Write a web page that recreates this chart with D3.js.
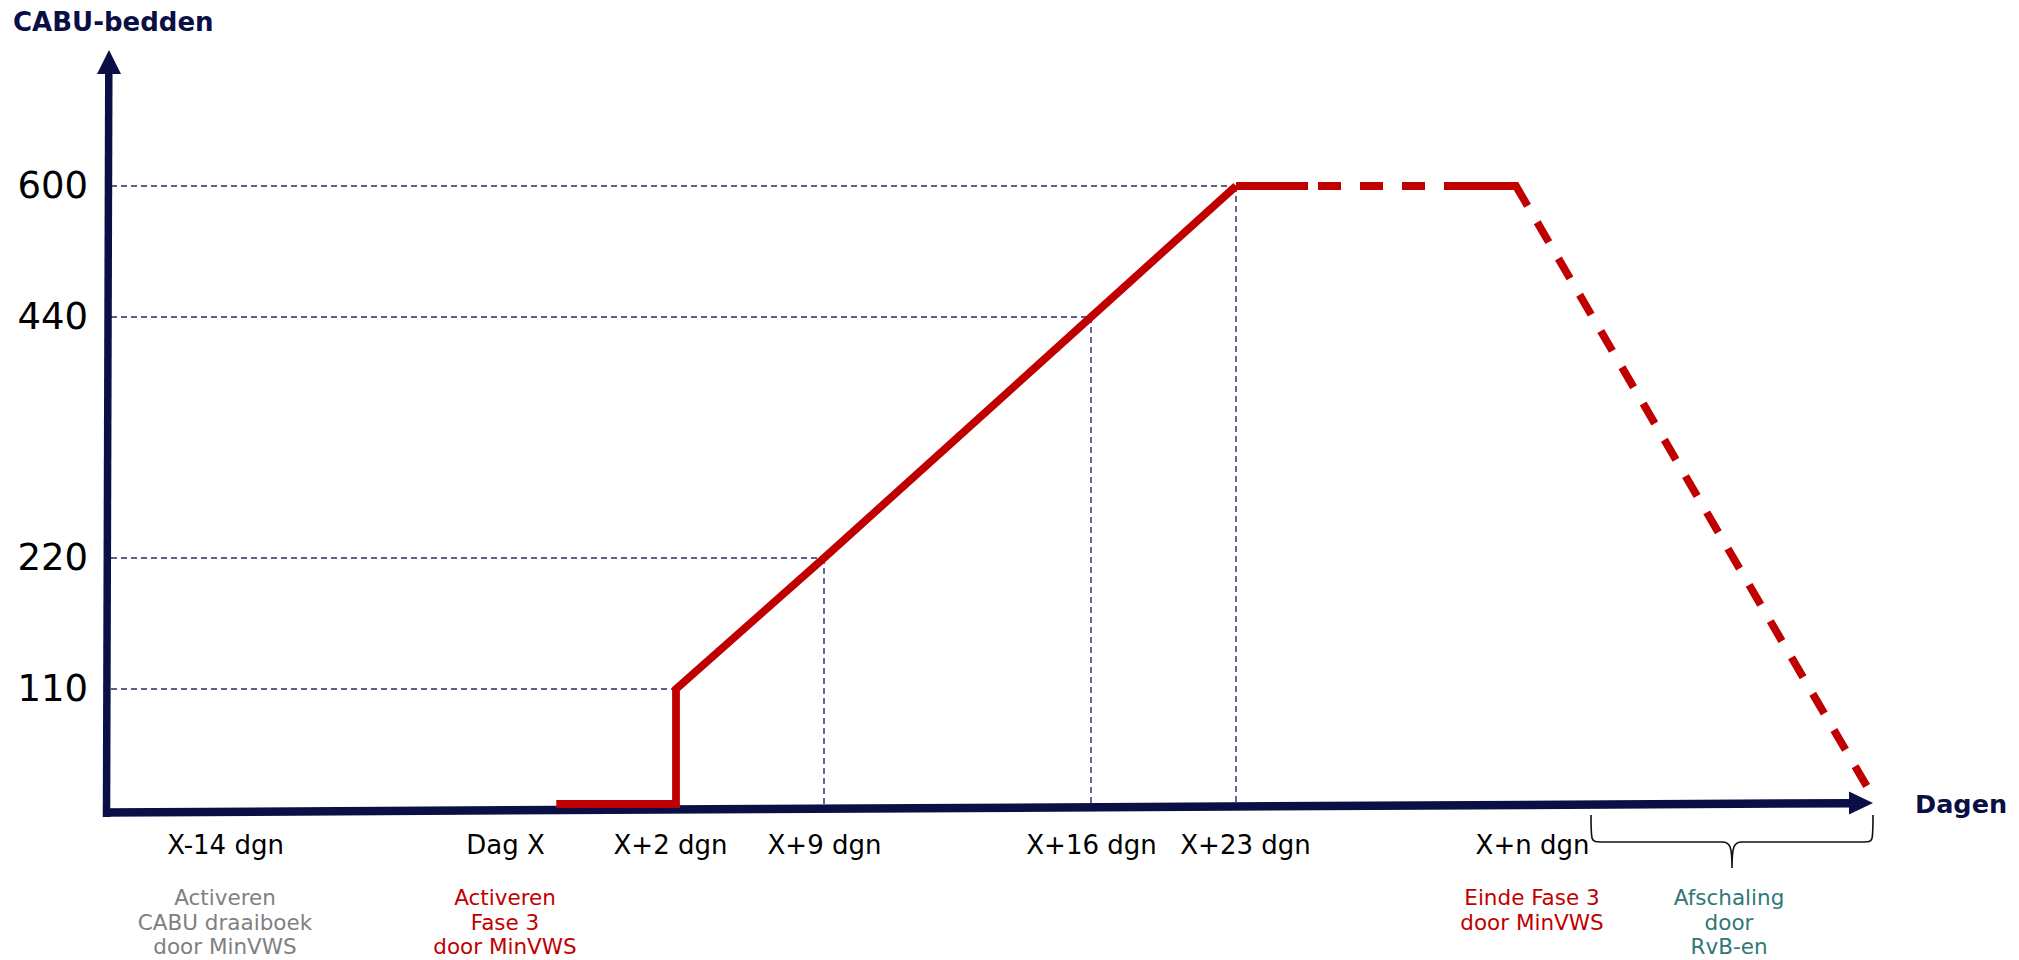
<!DOCTYPE html>
<html><head><meta charset="utf-8">
<script src="https://cdn.jsdelivr.net/npm/d3@7"></script>
<style>html,body{margin:0;padding:0;background:#fff;} svg{display:block;font-family:"DejaVu Sans",Verdana,sans-serif;}</style>
</head><body><svg id="chart" width="2019" height="960"></svg>
<script>
// ---- data ----
const yTicks = [110, 220, 440, 600];
const dayTicks = [-14, 0, 2, 9, 16, 23, 30];
const dayLabels = ["X-14 dgn", "Dag X", "X+2 dgn", "X+9 dgn", "X+16 dgn", "X+23 dgn", "X+n dgn"];
const guideDays = [2, 9, 16, 23];
const guideBeds = [110, 220, 440, 600];
const solidDays = [0.6, 2, 2, 9, 16, 23];
const solidBeds = [0, 0, 110, 220, 440, 600];
const dashedDays = [23, 30, 40];
const dashedBeds = [600, 600, 15];
const noteDays = [-14, 0, 30];
const noteLines = [["Activeren", "CABU draaiboek", "door MinVWS"], ["Activeren", "Fase 3", "door MinVWS"], ["Einde Fase 3", "door MinVWS"]];
const braceLines = ["Afschaling", "door", "RvB-en"];
const yTitle = "CABU-bedden";
const xTitle = "Dagen";

// ---- drawing ----
const svg = d3.select("#chart");
const NAVY = "#0a0f45", RED = "#c00000";
const noteColors = ["#808080", RED, RED];

// schematic (piecewise) scales
const x = d3.scaleLinear().domain([-14, 0, 2, 9, 16, 23, 30, 40]).range([225, 505, 676, 824, 1091, 1236, 1516, 1868]);
const y = d3.scaleLinear().domain([0, 110, 220, 440, 600]).range([804, 689, 558, 317, 186]);

const ax0 = 103, ay0 = 812.5, axTip = 1873, ayTip = 803;
const axisY = xp => ay0 + (xp - ax0) * (ayTip - ay0) / (axTip - ax0);

// dashed guides
const guides = svg.append("g").attr("stroke", "#262c63").attr("stroke-width", 1.4).attr("stroke-dasharray", "6,4").attr("fill", "none");
guideDays.forEach((d, i) => {
  guides.append("line").attr("x1", 111).attr("x2", x(d)).attr("y1", y(guideBeds[i])).attr("y2", y(guideBeds[i]));
  if (i > 0) guides.append("line").attr("x1", x(d)).attr("x2", x(d)).attr("y1", y(guideBeds[i])).attr("y2", axisY(x(d)) - 4);
});

// axes (arrows)
svg.append("line").attr("x1", ax0).attr("y1", ay0).attr("x2", axTip - 22).attr("y2", ayTip + 0.2)
  .attr("stroke", NAVY).attr("stroke-width", 8.5);
svg.append("path").attr("d", `M${axTip - 24},${ayTip - 11.5}L${axTip},${ayTip}L${axTip - 24},${ayTip + 11.5}Z`).attr("fill", NAVY);
svg.append("line").attr("x1", 106.5).attr("y1", 817).attr("x2", 108.8).attr("y2", 70)
  .attr("stroke", NAVY).attr("stroke-width", 7.5);
svg.append("path").attr("d", `M97,74L109,50L121,74Z`).attr("fill", NAVY);

// red line
const line = d3.line().x(d => x(d[0])).y(d => y(d[1])).curve(d3.curveLinear);
svg.append("path").datum(solidDays.map((d, i) => [d, solidBeds[i]]))
  .attr("d", line).attr("fill", "none").attr("stroke", RED).attr("stroke-width", 7.8).attr("stroke-linejoin", "miter");
let dash = [72, 10, 23, 19, 23, 19, 23, 19, 95];
for (let k = 0; k < 16; k++) dash.push(19, 23);
dash.push(19, 400);
svg.append("path").datum(dashedDays.map((d, i) => [d, dashedBeds[i]]))
  .attr("d", line).attr("fill", "none").attr("stroke", RED).attr("stroke-width", 7.8).attr("stroke-linejoin", "miter")
  .attr("stroke-dasharray", dash.join(","));

// y tick labels
const yAxis = svg.append("g").attr("transform", "translate(88,0)")
  .call(d3.axisLeft(y).tickValues(yTicks).tickSize(0).tickPadding(0));
yAxis.select(".domain").remove();
yAxis.selectAll("text").attr("font-size", 37).attr("fill", "#000").attr("font-family", "DejaVu Sans, Verdana, sans-serif");

// x tick labels
const labelNudge = [0, 0, -6, 0, 0, 9, 16];
const xAxis = svg.append("g").attr("transform", "translate(0,836)")
  .call(d3.axisBottom(x).tickValues(dayTicks).tickFormat((d, i) => dayLabels[i]).tickSize(0).tickPadding(0));
xAxis.select(".domain").remove();
xAxis.selectAll("text").attr("font-size", 26).attr("fill", "#000").attr("font-family", "DejaVu Sans, Verdana, sans-serif")
  .attr("dx", (d, i) => labelNudge[i]);

// axis titles
svg.append("text").attr("x", 13).attr("y", 31).attr("font-size", 26).attr("font-weight", "bold").attr("fill", NAVY).text(yTitle);
svg.append("text").attr("x", 1915).attr("y", 813).attr("font-size", 25.5).attr("font-weight", "bold").attr("fill", NAVY).text(xTitle);

// notes under the axis
noteDays.forEach((d, i) => {
  const t = svg.append("text").attr("text-anchor", "middle").attr("font-size", 21.5).attr("fill", noteColors[i]);
  noteLines[i].forEach((s, j) => t.append("tspan").attr("x", x(d) + labelNudge[dayTicks.indexOf(d)]).attr("y", 905 + j * 24.5).text(s));
});

// brace
const bL = 1591, bR = 1874, bM = 1732, bTop = 815, bH = 842, bTip = 868;
svg.append("path").attr("fill", "none").attr("stroke", "#111").attr("stroke-width", 1.6)
  .attr("d", `M${bL},${bTop} C${bL},${bH} ${bL},${bH} ${bL + 10},${bH} L${bM - 10},${bH} C${bM - 2},${bH} ${bM},${bH + 4} ${bM},${bTip}
              M${bM},${bTip} C${bM},${bH + 4} ${bM + 2},${bH} ${bM + 10},${bH} L${bR - 10},${bH} C${bR - 1},${bH} ${bR - 1},${bH} ${bR - 1},${bTop}`);
const bt = svg.append("text").attr("text-anchor", "middle").attr("font-size", 21.5).attr("fill", "#2f7877");
braceLines.forEach((s, j) => bt.append("tspan").attr("x", bM - 3).attr("y", 905 + j * 24.5).text(s));
</script></body></html>
